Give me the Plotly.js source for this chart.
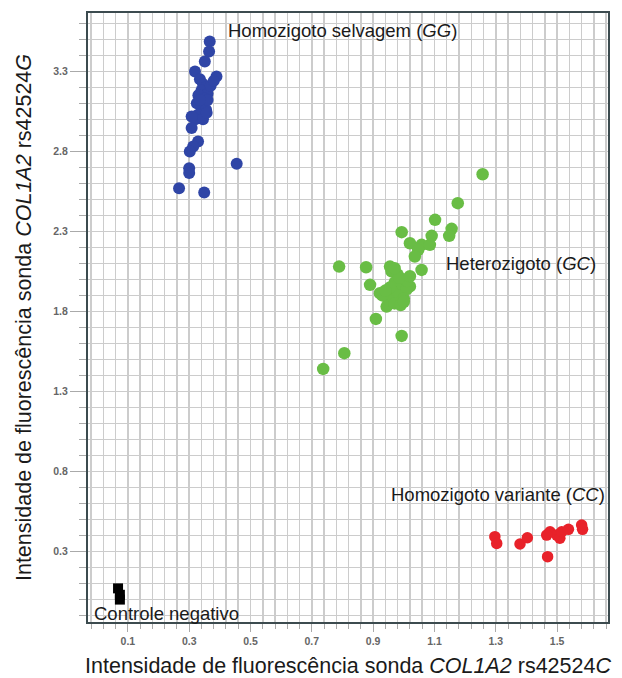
<!DOCTYPE html>
<html>
<head>
<meta charset="utf-8">
<script src="https://cdn.plot.ly/plotly-3.0.1.min.js"></script>
<style>html,body{margin:0;padding:0;background:#fff;}#chart{width:622px;height:678px;}</style>
</head>
<body>
<div id="chart"></div>
<script>
// Homozigoto selvagem (GG) – blue
const ggX = [0.367, 0.365, 0.351, 0.319, 0.389, 0.335, 0.345, 0.355, 0.340, 0.360, 0.330, 0.350, 0.370, 0.380, 0.325, 0.340, 0.355, 0.330, 0.320, 0.345, 0.360, 0.335, 0.308, 0.357, 0.308, 0.329, 0.313, 0.302, 0.300, 0.300, 0.455, 0.267, 0.349];
const ggY = [3.486, 3.424, 3.361, 3.299, 3.268, 3.250, 3.220, 3.200, 3.180, 3.160, 3.150, 3.130, 3.210, 3.240, 3.100, 3.080, 3.060, 3.030, 3.000, 3.000, 3.120, 3.120, 3.018, 3.041, 2.945, 2.861, 2.830, 2.799, 2.695, 2.664, 2.722, 2.570, 2.543];

// Heterozigoto (GC) – green
const gcX = [1.257, 1.176, 1.102, 1.156, 1.148, 0.993, 1.091, 1.020, 1.058, 1.085, 1.047, 1.036, 0.789, 0.877, 0.955, 1.058, 0.890, 0.922, 0.944, 1.020, 0.909, 0.993, 0.806, 0.737,
             0.960, 0.980, 1.000, 0.970, 0.990, 1.010, 0.960, 0.980, 1.000, 0.950, 0.970, 0.990, 1.010, 0.985, 1.020, 0.930, 0.955, 1.000, 0.940, 0.970];
const gcY = [2.657, 2.476, 2.372, 2.316, 2.272, 2.295, 2.272, 2.226, 2.216, 2.216, 2.184, 2.143, 2.080, 2.076, 2.080, 2.059, 1.966, 1.914, 1.830, 1.956, 1.753, 1.647, 1.539, 1.441,
             2.050, 2.030, 2.000, 1.980, 1.960, 1.940, 1.930, 1.900, 1.880, 1.870, 1.850, 1.840, 1.990, 2.010, 2.020, 1.900, 1.950, 1.860, 1.930, 2.070];

// Homozigoto variante (CC) – red
const ccX = [1.297, 1.303, 1.379, 1.403, 1.469, 1.477, 1.499, 1.509, 1.515, 1.537, 1.580, 1.583, 1.466];
const ccY = [0.393, 0.351, 0.347, 0.386, 0.268, 0.424, 0.403, 0.383, 0.424, 0.439, 0.466, 0.439, 0.403];

// Controle negativo – black
const ncX = [0.068, 0.074, 0.074];
const ncY = [0.070, 0.030, 0.000];

const xTickVals = [0.1, 0.3, 0.5, 0.7, 0.9, 1.1, 1.3, 1.5];
const yTickVals = [0.3, 0.8, 1.3, 1.8, 2.3, 2.8, 3.3];

const traces = [
  {x: ggX, y: ggY, mode: 'markers', type: 'scatter', name: 'GG',
   marker: {color: '#2f45a6', size: 12, line: {width: 0}}},
  {x: gcX, y: gcY, mode: 'markers', type: 'scatter', name: 'GC',
   marker: {color: '#69bd45', size: 12.5, line: {width: 0}}},
  {x: ccX, y: ccY, mode: 'markers', type: 'scatter', name: 'CC',
   marker: {color: '#e8222a', size: 11.5, line: {width: 0}}},
  {x: ncX, y: ncY, mode: 'markers', type: 'scatter', name: 'NC',
   marker: {color: '#000000', size: 10, symbol: 'square', line: {width: 0}}}
];

const FONT = '"Liberation Sans", Arial, sans-serif';
const annFont = {family: FONT, size: 18.5, color: '#1a1a1a'};

const layout = {
  width: 622, height: 678,
  margin: {l: 88, r: 14, t: 13, b: 56},
  paper_bgcolor: '#ffffff', plot_bgcolor: '#ffffff',
  showlegend: false,
  font: {family: FONT},
  xaxis: {
    range: [-0.03, 1.666],
    tickvals: xTickVals,
    ticktext: xTickVals.map(v => v.toFixed(1)),
    ticks: 'outside', ticklen: 8, tickwidth: 1, tickcolor: '#aaaaaa',
    tickfont: {family: FONT, size: 10.5, color: '#666666', weight: 'bold'},
    showgrid: true, gridcolor: '#cccccc', gridwidth: 1.5,
    minor: {tick0: 0.1, dtick: 0.04, showgrid: true, gridcolor: '#cccccc', gridwidth: 1.5,
            ticks: 'outside', ticklen: 5, tickcolor: '#aaaaaa', tickwidth: 1},
    showline: true, linecolor: '#3c4b4f', linewidth: 2, mirror: true,
    zeroline: false,
    title: {text: 'Intensidade de fluorescência sonda <i>COL1A2</i> rs42524<i>C</i>',
            font: {family: FONT, size: 21.5, color: '#1a1a1a'}, standoff: 12}
  },
  yaxis: {
    range: [-0.14, 3.664],
    tickvals: yTickVals,
    ticktext: yTickVals.map(v => v.toFixed(1)),
    ticks: 'outside', ticklen: 16, tickwidth: 1, tickcolor: '#aaaaaa',
    tickfont: {family: FONT, size: 10.5, color: '#666666', weight: 'bold'},
    showgrid: true, gridcolor: '#cccccc', gridwidth: 1.5,
    minor: {tick0: 0.3, dtick: 0.1, showgrid: true, gridcolor: '#cccccc', gridwidth: 1.5,
            ticks: 'outside', ticklen: 7, tickcolor: '#aaaaaa', tickwidth: 1},
    showline: true, linecolor: '#3c4b4f', linewidth: 2, mirror: true,
    zeroline: false,
    title: {text: 'Intensidade de fluorescência sonda <i>COL1A2</i> rs42524<i>G</i>',
            font: {family: FONT, size: 21.5, color: '#1a1a1a'}, standoff: 16}
  },
  annotations: [
    {text: 'Homozigoto selvagem (<i>GG</i>)', x: 0.42, y: 3.553, xref: 'x', yref: 'y',
     xanchor: 'left', yanchor: 'middle', showarrow: false, font: annFont},
    {text: 'Heterozigoto (<i>GC</i>)', x: 1.131, y: 2.097, xref: 'x', yref: 'y',
     xanchor: 'left', yanchor: 'middle', showarrow: false, font: annFont},
    {text: 'Homozigoto variante (<i>CC</i>)', x: 0.952, y: 0.659, xref: 'x', yref: 'y',
     xanchor: 'left', yanchor: 'middle', showarrow: false, font: annFont},
    {text: 'Controle negativo', x: -0.017, y: -0.084, xref: 'x', yref: 'y',
     xanchor: 'left', yanchor: 'middle', showarrow: false, font: annFont}
  ]
};

Plotly.newPlot('chart', traces, layout, {displayModeBar: false, staticPlot: true});
</script>
</body>
</html>
